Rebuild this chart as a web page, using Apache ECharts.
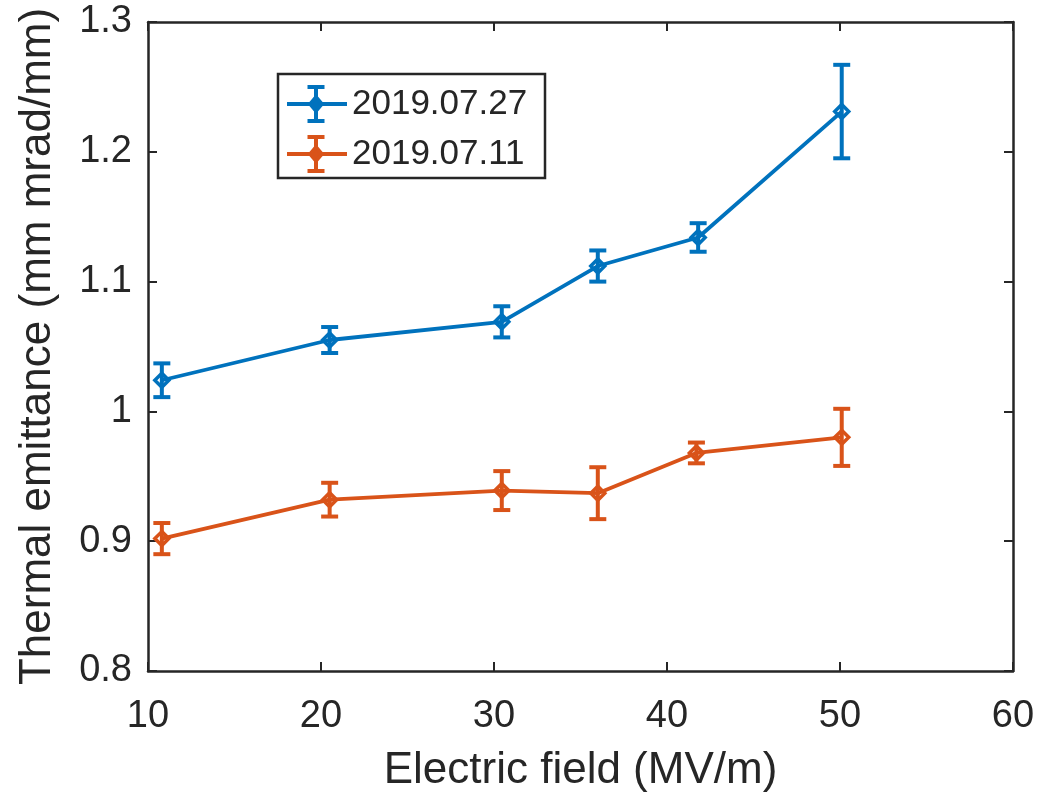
<!DOCTYPE html>
<html>
<head>
<meta charset="utf-8">
<script src="https://cdn.jsdelivr.net/npm/echarts@6/dist/echarts.min.js"></script>
<style>
  html, body { margin: 0; padding: 0; background: #fff; }
  #chart { width: 1063px; height: 798px; }
</style>
</head>
<body>
<div id="chart"></div>
<script>
// Thermal emittance vs. electric field, two measurement dates
const seriesNames = ['2019.07.27', '2019.07.11'];
const seriesColors = ['#0072BD', '#D95319'];

const fieldBlue = [10.8, 20.5, 30.45, 36.0, 41.8, 50.1];
const emitBlue  = [1.024, 1.055, 1.069, 1.112, 1.134, 1.231];
const errBlue   = [0.013, 0.010, 0.012, 0.012, 0.011, 0.036];

const fieldOrange = [10.8, 20.5, 30.45, 36.0, 41.7, 50.1];
const emitOrange  = [0.902, 0.932, 0.939, 0.937, 0.968, 0.980];
const errOrange   = [0.012, 0.013, 0.015, 0.020, 0.008, 0.022];

const xTicks = { min: 10, max: 60, interval: 10 };
const yTicks = { min: 0.8, max: 1.3, interval: 0.1 };

const FONT = "'Liberation Sans', Arial, Helvetica, sans-serif";
const INK = '#262626';

const groups = [
  { name: seriesNames[0], color: seriesColors[0], x: fieldBlue, y: emitBlue, e: errBlue },
  { name: seriesNames[1], color: seriesColors[1], x: fieldOrange, y: emitOrange, e: errOrange }
];

function errorBarRender(color) {
  return function (params, api) {
    const x = api.value(0);
    const lo = api.coord([x, api.value(1)]);
    const hi = api.coord([x, api.value(2)]);
    const cap = 8.5;
    const style = { stroke: color, lineWidth: 4, fill: null };
    return {
      type: 'group',
      children: [
        { type: 'line', shape: { x1: lo[0], y1: lo[1], x2: hi[0], y2: hi[1] }, style },
        { type: 'line', shape: { x1: lo[0] - cap, y1: lo[1], x2: lo[0] + cap, y2: lo[1] }, style },
        { type: 'line', shape: { x1: hi[0] - cap, y1: hi[1], x2: hi[0] + cap, y2: hi[1] }, style }
      ]
    };
  };
}

const series = [];
groups.forEach(g => {
  series.push({
    name: g.name,
    type: 'line',
    data: g.x.map((xv, i) => [xv, g.y[i]]),
    symbol: 'diamond',
    symbolSize: 14,
    lineStyle: { color: g.color, width: 3.8 },
    itemStyle: { color: 'rgba(255,255,255,0)', borderColor: g.color, borderWidth: 3.5 },
    z: 3,
    animation: false
  });
  series.push({
    name: g.name + ' error',
    type: 'custom',
    renderItem: errorBarRender(g.color),
    data: g.x.map((xv, i) => [xv, g.y[i] - g.e[i], g.y[i] + g.e[i]]),
    encode: { x: 0, y: [1, 2] },
    z: 4,
    animation: false
  });
});

// Legend box drawn as graphic elements
const legendLeft = 278, legendTop = 74, legendW = 267, legendH = 104;
const rowY = [104, 154];
const legendGraphics = [
  { type: 'rect', shape: { x: legendLeft, y: legendTop, width: legendW, height: legendH },
    style: { fill: '#fff', stroke: INK, lineWidth: 2.5 }, z: 10 }
];
groups.forEach((g, i) => {
  const y = rowY[i];
  const cx = 316;
  const st = { stroke: g.color, lineWidth: 4, fill: null };
  legendGraphics.push(
    { type: 'line', shape: { x1: 287, y1: y, x2: 347, y2: y }, style: st, z: 11 },
    { type: 'line', shape: { x1: cx, y1: y - 17, x2: cx, y2: y + 17 }, style: st, z: 11 },
    { type: 'line', shape: { x1: cx - 8.5, y1: y - 17, x2: cx + 8.5, y2: y - 17 }, style: st, z: 11 },
    { type: 'line', shape: { x1: cx - 8.5, y1: y + 17, x2: cx + 8.5, y2: y + 17 }, style: st, z: 11 },
    { type: 'polygon', shape: { points: [[cx, y - 7], [cx + 6, y], [cx, y + 7], [cx - 6, y]] },
      style: { stroke: g.color, lineWidth: 3.5, fill: 'rgba(255,255,255,0)' }, z: 11 },
    { type: 'text', x: 352, y: y,
      style: { text: g.name, font: '35px ' + FONT, fill: INK, textVerticalAlign: 'middle', verticalAlign: 'middle' },
      z: 11 }
  );
});

const axisLineStyle = { color: INK, width: 2.5 };
const tickStyle = { show: true, inside: true, length: 9, lineStyle: { color: INK, width: 2 } };

const option = {
  backgroundColor: '#fff',
  animation: false,
  grid: { left: 148, right: 50, top: 22, bottom: 125 },
  xAxis: [
    {
      type: 'value', position: 'bottom',
      min: xTicks.min, max: xTicks.max, interval: xTicks.interval,
      name: 'Electric field (MV/m)', nameLocation: 'middle', nameGap: 78,
      nameTextStyle: { fontFamily: FONT, fontSize: 44, color: INK },
      axisLine: { show: true, lineStyle: axisLineStyle },
      axisTick: tickStyle,
      axisLabel: { fontFamily: FONT, fontSize: 38, color: INK, margin: 27 },
      splitLine: { show: false }
    },
    {
      type: 'value', position: 'top',
      min: xTicks.min, max: xTicks.max, interval: xTicks.interval,
      axisLine: { show: true, lineStyle: axisLineStyle },
      axisTick: tickStyle,
      axisLabel: { show: false },
      splitLine: { show: false }
    }
  ],
  yAxis: [
    {
      type: 'value', position: 'left',
      min: yTicks.min, max: yTicks.max, interval: yTicks.interval,
      name: 'Thermal emittance (mm mrad/mm)', nameLocation: 'middle', nameGap: 88,
      nameTextStyle: { fontFamily: FONT, fontSize: 44, color: INK },
      axisLine: { show: true, lineStyle: axisLineStyle },
      axisTick: tickStyle,
      axisLabel: { fontFamily: FONT, fontSize: 38, color: INK, margin: 16,
        formatter: v => String(+v.toFixed(1)) },
      splitLine: { show: false }
    },
    {
      type: 'value', position: 'right',
      min: yTicks.min, max: yTicks.max, interval: yTicks.interval,
      axisLine: { show: true, lineStyle: axisLineStyle },
      axisTick: tickStyle,
      axisLabel: { show: false },
      splitLine: { show: false }
    }
  ],
  series: series,
  graphic: legendGraphics
};

const chart = echarts.init(document.getElementById('chart'), null, { renderer: 'canvas' });
chart.setOption(option);
</script>
</body>
</html>
